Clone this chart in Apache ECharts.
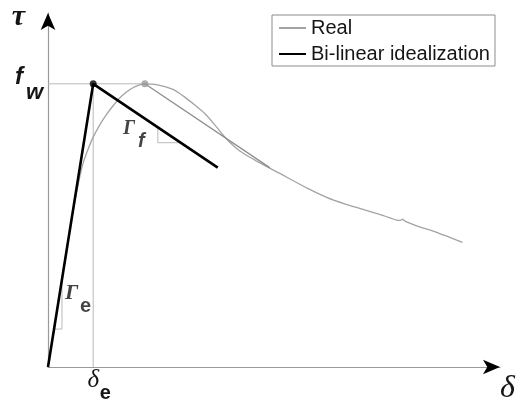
<!DOCTYPE html>
<html>
<head>
<meta charset="utf-8">
<script src="https://cdn.jsdelivr.net/npm/echarts@6/dist/echarts.min.js"></script>
<style>
  html, body { margin: 0; padding: 0; background: #fff; }
  #chart { width: 518px; height: 409px; }
</style>
</head>
<body>
<div id="chart"></div>
<script>
// Shear stress (tau) vs slip (delta), normalised so that delta_e = 1 and f_w = 1.

// Measured response
const realDelta = [0, 0.287, 0.486, 0.597, 0.685, 0.773, 0.884, 0.994, 1.149, 1.304, 1.458, 1.591, 1.745, 1.878, 2.011, 2.143,
  2.364, 2.585, 2.806, 3.027, 3.248, 3.469, 3.690, 3.911, 4.132, 4.353, 4.618, 4.905, 5.170, 5.457, 5.789, 6.164,
  6.562, 6.894, 7.335, 7.711, 7.799, 7.844, 7.910, 8.219, 8.506, 8.838, 9.169];
const realTau = [0, 0.289, 0.489, 0.588, 0.658, 0.718, 0.768, 0.810, 0.856, 0.894, 0.926, 0.951, 0.972, 0.986, 0.995, 1.000,
  0.998, 0.990, 0.977, 0.953, 0.925, 0.895, 0.855, 0.812, 0.777, 0.751, 0.727, 0.702, 0.680, 0.655, 0.627, 0.599,
  0.576, 0.560, 0.539, 0.519, 0.518, 0.522, 0.514, 0.495, 0.481, 0.461, 0.440];

// Bi-linear idealization: elastic branch up to (delta_e, f_w), then softening branch
const bilinDelta = [0, 1, 3.756];
const bilinTau   = [0, 1, 0.704];

// Softening slope drawn through the peak of the measured curve
const peakDelta = 2.143;
const parallelDelta = [peakDelta, 4.905];
const parallelTau   = [1, 0.704];

// Reference lines to f_w and delta_e
const fwLineDelta = [0, peakDelta];
const fwLineTau   = [1, 1];
const deLineDelta = [1, 1];
const deLineTau   = [0, 1];

// Slope triangles
const triEDelta = [0.134, 0.309, 0.309];
const triETau   = [0.134, 0.134, 0.309];
const triFDelta = [2.430, 2.430, 2.937];
const triFTau   = [0.846, 0.792, 0.792];

// Axis tick labels and annotations
const xTickValues = [1];
const yTickValues = [1];
const gammaE = [0.376, 0.286];
const gammaF = [1.657, 0.862];

const zip = (xs, ys) => xs.map((x, i) => [x, ys[i]]);

const serif = '"Liberation Serif", "DejaVu Serif", serif';
const sans = '"Liberation Sans", Arial, sans-serif';
const ink = '#151515';
const helper = { color: '#b9b9b9', width: 1 };
const X_MAX = 10, Y_MAX = 1.25;

const chart = echarts.init(document.getElementById('chart'), null, { renderer: 'canvas' });

function helperLine(xs, ys) {
  return {
    type: 'line', data: zip(xs, ys), symbol: 'none', silent: true,
    lineStyle: helper, z: 1
  };
}

// A bare axis that only carries the black arrow head at its end
function arrowAxis(max, position) {
  return {
    type: 'value', min: 0, max: max, position: position,
    axisLine: { show: true, onZero: false, lineStyle: { color: '#000', width: 0 }, symbol: ['none', 'arrow'], symbolSize: [11, 17] },
    axisTick: { show: false }, axisLabel: { show: false }, splitLine: { show: false }
  };
}

// Italic Greek symbol style
const greekStyle = (size, lineHeight) => ({
  fontFamily: serif, fontStyle: 'italic', fontWeight: 'bold', fontSize: size, color: ink, lineHeight: lineHeight
});

chart.setOption({
  animation: false,
  backgroundColor: '#fff',
  grid: { left: 48, right: 18, top: 13, bottom: 42, containLabel: false, outerBoundsMode: 'none' },
  legend: {
    data: ['Real', 'Bi-linear idealization'],
    orient: 'vertical',
    left: 272, top: 15,
    padding: [2, 5, 1, 6],
    itemGap: 4,
    itemWidth: 27, itemHeight: 14,
    backgroundColor: '#fff',
    borderColor: '#8c8c8c', borderWidth: 1,
    itemStyle: { opacity: 0 },
    textStyle: { fontFamily: sans, fontSize: 20, color: ink, lineHeight: 22 }
  },
  xAxis: [{
    type: 'value', min: 0, max: X_MAX,
    name: 'δ', nameLocation: 'end', nameGap: 0,
    nameTextStyle: Object.assign(greekStyle(32, 32), { fontWeight: 'normal', verticalAlign: 'top', align: 'left', padding: [6, 0, 0, 0] }),
    axisLine: { show: true, lineStyle: { color: '#9a9a9a', width: 1.2 } },
    axisTick: { show: false },
    splitLine: { show: false },
    axisLabel: {
      customValues: xTickValues, margin: 4,
      formatter: () => '{d|δ}\n{e|e}',
      rich: {
        d: Object.assign(greekStyle(25, 18), { fontWeight: 'normal' }),
        e: { fontFamily: sans, fontWeight: 'bold', fontSize: 20, color: ink, lineHeight: 8, padding: [0, 0, 0, 24] }
      }
    }
  }, arrowAxis(X_MAX, 'bottom')],
  yAxis: [{
    type: 'value', min: 0, max: Y_MAX,
    name: 'τ', nameLocation: 'end', nameGap: -4,
    nameTextStyle: Object.assign(greekStyle(30, 30), { align: 'right', verticalAlign: 'middle', padding: [0, 23, 0, 0] }),
    axisLine: { show: true, lineStyle: { color: '#9a9a9a', width: 1.2 } },
    axisTick: { show: false },
    splitLine: { show: false },
    axisLabel: {
      customValues: yTickValues, margin: 5,
      formatter: () => '{f|f}\n{w|w}',
      rich: {
        f: { fontFamily: sans, fontWeight: 'bold', fontStyle: 'italic', fontSize: 24, color: ink, lineHeight: 19, padding: [0, 20, 0, 0] },
        w: { fontFamily: sans, fontWeight: 'bold', fontStyle: 'italic', fontSize: 22, color: ink, lineHeight: 12.4 }
      }
    }
  }, arrowAxis(Y_MAX, 'left')],
  series: [
    helperLine(fwLineDelta, fwLineTau),
    helperLine(deLineDelta, deLineTau),
    helperLine(triEDelta, triETau),
    helperLine(triFDelta, triFTau),
    {
      name: 'Real', type: 'line', data: zip(realDelta, realTau),
      symbol: 'none', smooth: 0.15, z: 2,
      itemStyle: { color: '#a3a3a3' },
      lineStyle: { color: '#a3a3a3', width: 1.3 }
    },
    {
      name: 'softening', type: 'line', data: zip(parallelDelta, parallelTau),
      symbol: 'none', z: 2, silent: true,
      lineStyle: { color: '#8e8e8e', width: 1.3 }
    },
    {
      name: 'Bi-linear idealization', type: 'line', data: zip(bilinDelta, bilinTau),
      symbol: 'none', z: 3,
      itemStyle: { color: '#000' },
      lineStyle: { color: '#000', width: 2.6 }
    },
    {
      name: 'points', type: 'scatter', z: 4, symbolSize: 7, silent: true,
      data: [
        { value: [bilinDelta[1], bilinTau[1]], itemStyle: { color: '#000' } },
        { value: [peakDelta, 1], itemStyle: { color: '#9a9a9a' } }
      ]
    },
    {
      name: 'annotations', type: 'scatter', z: 5, symbolSize: 0, silent: true,
      label: {
        show: true, position: [0, 0], align: 'left', verticalAlign: 'top',
        color: ink
      },
      data: [
        {
          value: gammaE,
          label: {
            formatter: '{g|Γ}\n{s|e}',
            rich: {
              g: greekStyle(22, 14),
              s: { fontFamily: sans, fontWeight: 'bold', fontSize: 20, color: ink, lineHeight: 12, padding: [0, 0, 0, 15] }
            }
          }
        },
        {
          value: gammaF,
          label: {
            formatter: '{g|Γ}\n{s|f}',
            rich: {
              g: greekStyle(20, 12),
              s: { fontFamily: sans, fontWeight: 'bold', fontStyle: 'italic', fontSize: 20, color: ink, lineHeight: 12.8, padding: [0, 0, 0, 15] }
            }
          }
        }
      ]
    }
  ]
});
</script>
</body>
</html>
